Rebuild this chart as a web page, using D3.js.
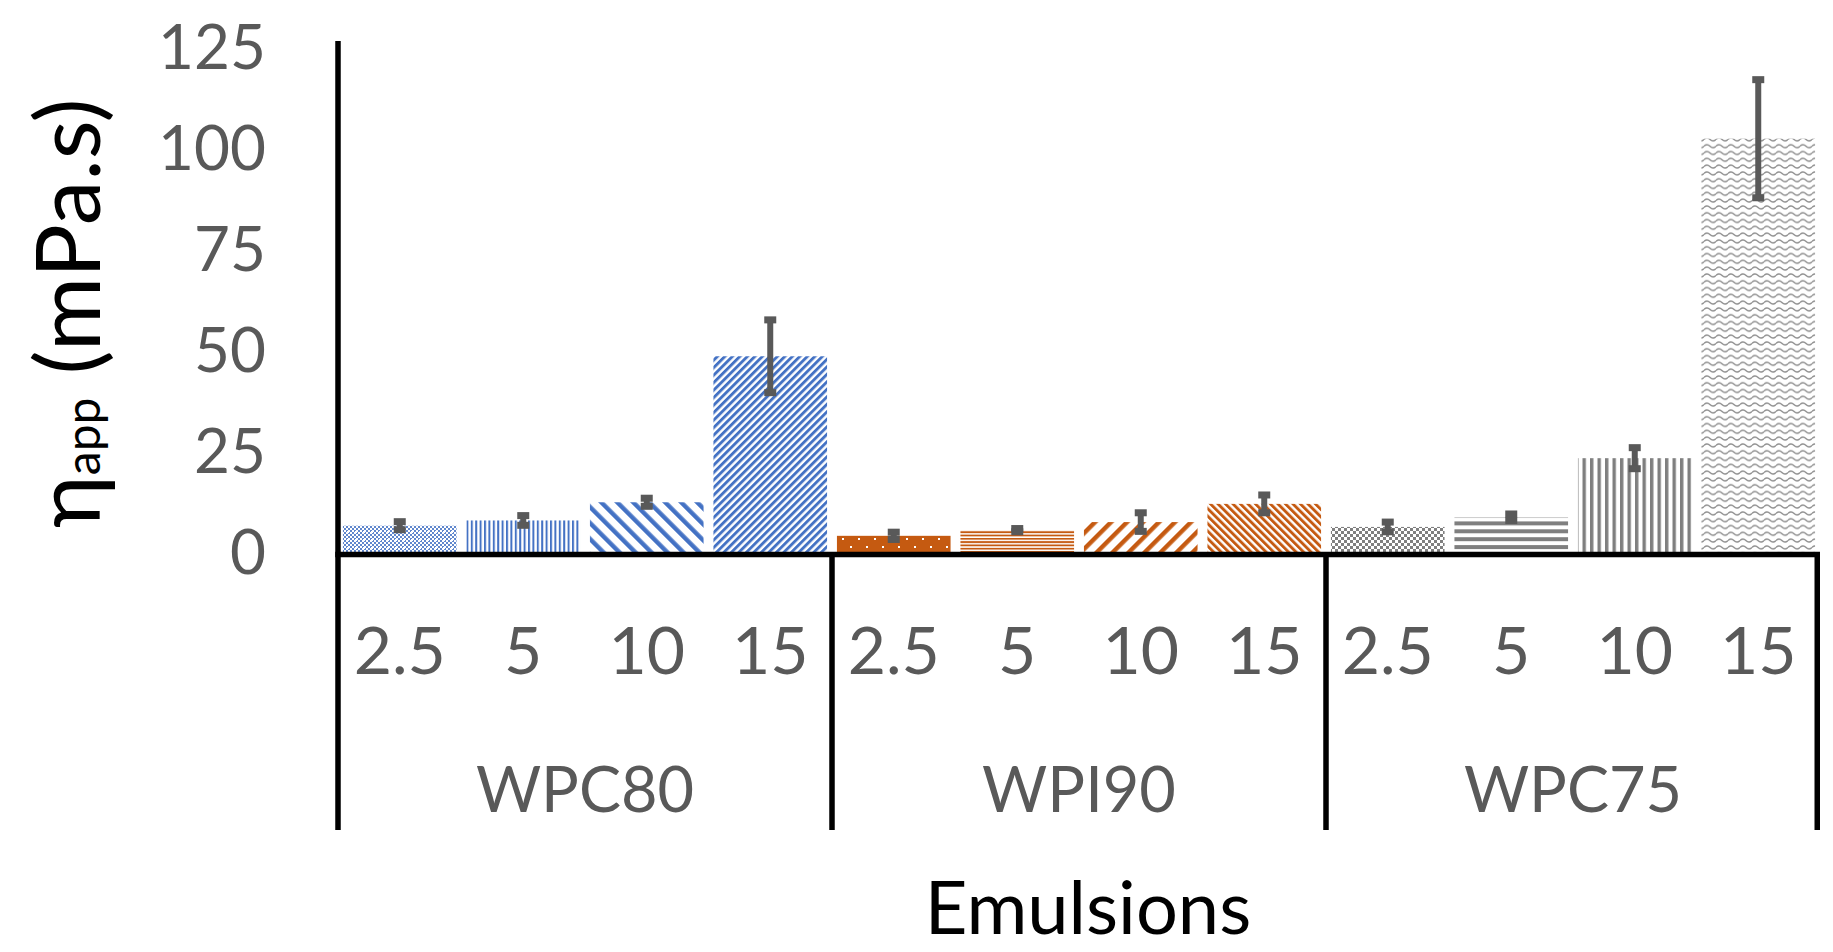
<!DOCTYPE html>
<html>
<head>
<meta charset="utf-8">
<script src="https://cdn.jsdelivr.net/npm/d3@7"></script>
<style>
  html, body { margin: 0; padding: 0; background: #fff; }
  svg { display: block; }
  text { font-family: Lato, "Open Sans", "DejaVu Sans", sans-serif; }
</style>
</head>
<body>
<svg id="chart" width="1833" height="952"></svg>
<script>
// ---- data ----
const groups = ["WPC80", "WPI90", "WPC75"];
const concentrations = ["2.5", "5", "10", "15"];
const wpc80Values = [6.5, 7.8, 12.3, 48.4];
const wpc80Errors = [1.0, 1.2, 1.0, 9.0];
const wpi90Values = [4.0, 5.4, 7.4, 11.9];
const wpi90Errors = [0.9, 0.4, 2.3, 2.2];
const wpc75Values = [6.2, 8.6, 23.2, 102.2];
const wpc75Errors = [1.2, 0.8, 2.6, 14.6];
const yTicks = [0, 25, 50, 75, 100, 125];
const yTitleMain = "η";
const yTitleSub = "app";
const yTitleUnit = " (mPa.s)";
const xTitle = "Emulsions";

const seriesValues = [wpc80Values, wpi90Values, wpc75Values];
const seriesErrors = [wpc80Errors, wpi90Errors, wpc75Errors];
const groupColors = ["#4472C4", "#C55A11", "#7F7F7F"];

// build flat table
const rows = [];
groups.forEach((g, gi) => {
  concentrations.forEach((c, ci) => {
    rows.push({ key: g + "|" + c, group: g, conc: c, gi, ci,
      value: seriesValues[gi][ci], err: seriesErrors[gi][ci],
      pattern: "p" + gi + "_" + ci });
  });
});

const svg = d3.select("#chart");
const left = 338, right = 1820, yZero = 552, yTop = 46.5;

const x = d3.scaleBand().domain(rows.map(d => d.key)).range([left, right])
  .paddingInner(0.08).paddingOuter(0.04);
const y = d3.scaleLinear().domain([0, 125]).range([yZero, yTop]);

// ---- patterns ----
const defs = svg.append("defs");
function pat(id, w, h, transform) {
  const p = defs.append("pattern").attr("id", id)
    .attr("patternUnits", "userSpaceOnUse").attr("width", w).attr("height", h);
  if (transform) p.attr("patternTransform", transform);
  p.append("rect").attr("width", w).attr("height", h).attr("fill", "#fff");
  return p;
}
const B = groupColors[0], O = groupColors[1], G = groupColors[2];

// WPC80 2.5: dotted grid
{
  const p = pat("p0_0", 8, 8);
  for (let i = 0; i < 4; i++) for (let j = 0; j < 4; j++) {
    if ((i + j) % 2 === 0) p.append("rect").attr("x", i * 2).attr("y", j * 2).attr("width", 2).attr("height", 2).attr("fill", B).attr("opacity", 0.85);
  }
  p.append("rect").attr("x", 3).attr("y", 3).attr("width", 2).attr("height", 2).attr("fill", "#fff");
}
// WPC80 5: narrow vertical
{ const p = pat("p0_1", 4.4, 8); p.append("rect").attr("width", 2).attr("height", 8).attr("fill", B); }
// WPC80 10: wide downward diagonal
{ const p = pat("p0_2", 11.3, 10, "rotate(-45)"); p.append("rect").attr("width", 4.4).attr("height", 10).attr("fill", B); }
// WPC80 15: dark upward diagonal
{ const p = pat("p0_3", 5.3, 10, "rotate(45)"); p.append("rect").attr("width", 2.9).attr("height", 10).attr("fill", B); }

// WPI90 2.5: solid with white dots
{
  const p = pat("p1_0", 16, 16);
  p.select("rect").attr("fill", O);
  p.append("rect").attr("x", 2).attr("y", 2).attr("width", 2).attr("height", 2).attr("fill", "#fff");
  p.append("rect").attr("x", 10).attr("y", 10).attr("width", 2).attr("height", 2).attr("fill", "#fff");
}
// WPI90 5: narrow horizontal
{ const p = pat("p1_1", 8, 3.3); p.append("rect").attr("width", 8).attr("height", 1.8).attr("fill", O); }
// WPI90 10: wide upward diagonal
{ const p = pat("p1_2", 11.3, 10, "rotate(45)"); p.append("rect").attr("width", 4.4).attr("height", 10).attr("fill", O); }
// WPI90 15: dark downward diagonal
{ const p = pat("p1_3", 5.3, 10, "rotate(-45)"); p.append("rect").attr("width", 2.9).attr("height", 10).attr("fill", O); }

// WPC75 2.5: small checker
{
  const p = pat("p2_0", 6, 6);
  p.append("rect").attr("x", 0).attr("y", 0).attr("width", 3).attr("height", 3).attr("fill", G);
  p.append("rect").attr("x", 3).attr("y", 3).attr("width", 3).attr("height", 3).attr("fill", G);
}
// WPC75 5: wide horizontal
{ const p = pat("p2_1", 8, 7.9); p.append("rect").attr("y", 0).attr("width", 8).attr("height", 4).attr("fill", G); }
// WPC75 10: wide vertical
{ const p = pat("p2_2", 7.5, 8); p.append("rect").attr("width", 3.4).attr("height", 8).attr("fill", G); }
// WPC75 15: wave
{
  const p = pat("p2_3", 12, 6.8);
  p.append("path").attr("d", "M0,3.4 Q3,0.4 6,3.4 T12,3.4").attr("fill", "none")
    .attr("stroke", "#8c8c8c").attr("stroke-width", 1.4);
}

// ---- bars ----
svg.append("g").selectAll("rect").data(rows).join("rect")
  .attr("x", d => x(d.key)).attr("width", x.bandwidth())
  .attr("y", d => y(d.value)).attr("height", d => y(0) - y(d.value))
  .attr("fill", d => "url(#" + d.pattern + ")");

// ---- error bars ----
const eb = svg.append("g").attr("fill", "#595959");
rows.forEach(d => {
  const cx = x(d.key) + x.bandwidth() / 2;
  const yHi = y(d.value + d.err), yLo = y(d.value - d.err);
  eb.append("line").attr("x1", cx).attr("x2", cx).attr("y1", yHi).attr("y2", yLo)
    .attr("stroke", "#595959").attr("stroke-width", 6);
  eb.append("rect").attr("x", cx - 6).attr("y", yHi - 3.5).attr("width", 12).attr("height", 7);
  eb.append("rect").attr("x", cx - 6).attr("y", yLo - 3.5).attr("width", 12).attr("height", 7);
});

// ---- axes ----
const axisG = svg.append("g").attr("stroke", "#000").attr("stroke-width", 5.5).attr("fill", "none");
axisG.append("line").attr("x1", left).attr("x2", left).attr("y1", 41).attr("y2", 830);
axisG.append("line").attr("x1", left - 2.75).attr("x2", right).attr("y1", yZero + 2.5).attr("y2", yZero + 2.5);
const groupEdges = groups.map((g, gi) => x(g + "|" + concentrations[concentrations.length - 1]) + x.bandwidth() + x.step() * x.paddingInner() / 2);
groupEdges.forEach((gx, i) => {
  const xx = i === groups.length - 1 ? right - 2.75 : gx;
  axisG.append("line").attr("x1", xx).attr("x2", xx).attr("y1", yZero).attr("y2", 830);
});

// y tick labels
svg.append("g").selectAll("text").data(yTicks).join("text")
  .attr("x", 266).attr("y", d => y(d) + 22)
  .attr("text-anchor", "end").attr("font-size", 62).attr("fill", "#595959")
  .text(d => d);

// category labels
svg.append("g").selectAll("text").data(rows).join("text")
  .attr("x", d => x(d.key) + x.bandwidth() / 2).attr("y", 674)
  .attr("text-anchor", "middle").attr("font-size", 66).attr("fill", "#595959")
  .text(d => d.conc);

// group labels
svg.append("g").selectAll("text").data(groups).join("text")
  .attr("x", (g) => (x(g + "|" + concentrations[0]) + x(g + "|" + concentrations[3]) + x.bandwidth()) / 2)
  .attr("y", 812)
  .attr("text-anchor", "middle").attr("font-size", 63).attr("fill", "#595959")
  .text(d => d);

// x title
svg.append("text").attr("x", 1088).attr("y", 934).attr("text-anchor", "middle")
  .attr("font-size", 74).attr("fill", "#000").text(xTitle);

// y title
const yt = svg.append("text").attr("transform", "translate(100,313) rotate(-90)")
  .attr("text-anchor", "middle").attr("fill", "#000").attr("font-size", 90);
yt.append("tspan").text(yTitleMain);
yt.append("tspan").attr("font-size", 48).text(yTitleSub);
yt.append("tspan").text(yTitleUnit);
</script>
</body>
</html>
